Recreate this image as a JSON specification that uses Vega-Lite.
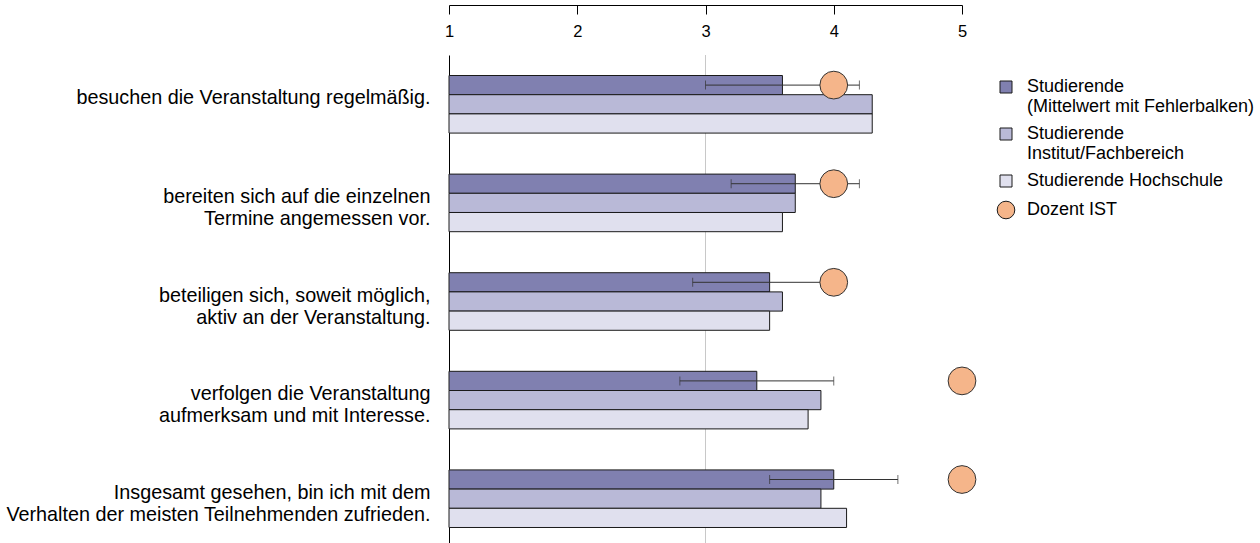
{
  "$schema": "https://vega.github.io/schema/vega-lite/v6.json",
  "autosize": "none",
  "width": 513,
  "height": 493,
  "padding": {"left": 449, "top": 55, "right": 298, "bottom": 0},
  "background": "white",
  "config": {
    "view": {"stroke": null},
    "font": "Liberation Sans",
    "axis": {"labelFont": "Liberation Sans", "labelColor": "#000"},
    "legend": {"labelFont": "Liberation Sans", "labelColor": "#000"}
  },
  "datasets": {
    "bars": [
      {"q": "besuchen die Veranstaltung regelmäßig.", "s": "Studierende|(Mittelwert mit Fehlerbalken)", "v": 3.6},
      {"q": "besuchen die Veranstaltung regelmäßig.", "s": "Studierende|Institut/Fachbereich", "v": 4.3},
      {"q": "besuchen die Veranstaltung regelmäßig.", "s": "Studierende Hochschule", "v": 4.3},
      {"q": "bereiten sich auf die einzelnen|Termine angemessen vor.", "s": "Studierende|(Mittelwert mit Fehlerbalken)", "v": 3.7},
      {"q": "bereiten sich auf die einzelnen|Termine angemessen vor.", "s": "Studierende|Institut/Fachbereich", "v": 3.7},
      {"q": "bereiten sich auf die einzelnen|Termine angemessen vor.", "s": "Studierende Hochschule", "v": 3.6},
      {"q": "beteiligen sich, soweit möglich,|aktiv an der Veranstaltung.", "s": "Studierende|(Mittelwert mit Fehlerbalken)", "v": 3.5},
      {"q": "beteiligen sich, soweit möglich,|aktiv an der Veranstaltung.", "s": "Studierende|Institut/Fachbereich", "v": 3.6},
      {"q": "beteiligen sich, soweit möglich,|aktiv an der Veranstaltung.", "s": "Studierende Hochschule", "v": 3.5},
      {"q": "verfolgen die Veranstaltung|aufmerksam und mit Interesse.", "s": "Studierende|(Mittelwert mit Fehlerbalken)", "v": 3.4},
      {"q": "verfolgen die Veranstaltung|aufmerksam und mit Interesse.", "s": "Studierende|Institut/Fachbereich", "v": 3.9},
      {"q": "verfolgen die Veranstaltung|aufmerksam und mit Interesse.", "s": "Studierende Hochschule", "v": 3.8},
      {"q": "Insgesamt gesehen, bin ich mit dem|Verhalten der meisten Teilnehmenden zufrieden.", "s": "Studierende|(Mittelwert mit Fehlerbalken)", "v": 4.0},
      {"q": "Insgesamt gesehen, bin ich mit dem|Verhalten der meisten Teilnehmenden zufrieden.", "s": "Studierende|Institut/Fachbereich", "v": 3.9},
      {"q": "Insgesamt gesehen, bin ich mit dem|Verhalten der meisten Teilnehmenden zufrieden.", "s": "Studierende Hochschule", "v": 4.1}
    ],
    "err": [
      {"q": "besuchen die Veranstaltung regelmäßig.", "lo": 3.0, "hi": 4.2},
      {"q": "bereiten sich auf die einzelnen|Termine angemessen vor.", "lo": 3.2, "hi": 4.2},
      {"q": "beteiligen sich, soweit möglich,|aktiv an der Veranstaltung.", "lo": 2.9, "hi": 4.1},
      {"q": "verfolgen die Veranstaltung|aufmerksam und mit Interesse.", "lo": 2.8, "hi": 4.0},
      {"q": "Insgesamt gesehen, bin ich mit dem|Verhalten der meisten Teilnehmenden zufrieden.", "lo": 3.5, "hi": 4.5}
    ],
    "doz": [
      {"q": "besuchen die Veranstaltung regelmäßig.", "s": "Dozent IST", "v": 4.0},
      {"q": "bereiten sich auf die einzelnen|Termine angemessen vor.", "s": "Dozent IST", "v": 4.0},
      {"q": "beteiligen sich, soweit möglich,|aktiv an der Veranstaltung.", "s": "Dozent IST", "v": 4.0},
      {"q": "verfolgen die Veranstaltung|aufmerksam und mit Interesse.", "s": "Dozent IST", "v": 5.0},
      {"q": "Insgesamt gesehen, bin ich mit dem|Verhalten der meisten Teilnehmenden zufrieden.", "s": "Dozent IST", "v": 5.0}
    ]
  },
  "encoding": {
    "y": {
      "field": "q", "type": "nominal", "sort": null,
      "scale": {"paddingInner": 0.416, "paddingOuter": 0.208},
      "axis": {
        "title": null, "ticks": false, "tickSize": 0, "labelPadding": 19,
        "labelFontSize": 19.8, "labelLineHeight": 22.4, "labelLimit": 600,
        "labelOffset": -6, "labelExpr": "split(datum.label, '|')",
        "domainColor": "#000", "domainWidth": 1
      }
    }
  },
  "layer": [
    {
      "data": {"name": "bars"},
      "mark": {"type": "rule", "color": "#c8c8c8", "strokeWidth": 1},
      "encoding": {"x": {"datum": 3, "type": "quantitative"}, "y": null}
    },
    {
      "data": {"name": "bars"},
      "mark": {"type": "bar", "stroke": "#1a1a1a", "strokeWidth": 1},
      "encoding": {
        "x": {
          "field": "v", "type": "quantitative",
          "scale": {"domain": [1, 5], "zero": false, "nice": false},
          "axis": {
            "orient": "bottom", "offset": -543, "title": null, "grid": false,
            "values": [1, 2, 3, 4, 5], "format": "d",
            "tickSize": 9, "tickColor": "#000", "domainColor": "#000",
            "labelFontSize": 16.5, "labelPadding": 9, "labelFlush": false
          }
        },
        "x2": {"datum": 1},
        "yOffset": {"field": "s", "type": "nominal", "sort": null,
          "scale": {"domain": ["Studierende|(Mittelwert mit Fehlerbalken)", "Studierende|Institut/Fachbereich", "Studierende Hochschule"], "paddingInner": 0, "paddingOuter": 0}},
        "color": {
          "field": "s", "type": "nominal",
          "scale": {
            "domain": ["Studierende|(Mittelwert mit Fehlerbalken)", "Studierende|Institut/Fachbereich", "Studierende Hochschule", "Dozent IST"],
            "range": ["#8080b0", "#b9b9d7", "#e0e0ee", "#f5b58a"]
          },
          "legend": {
            "title": null, "orient": "none", "legendX": 548, "legendY": 23,
            "labelExpr": "split(datum.label, '|')",
            "labelFontSize": 18, "labelLineHeight": 21, "labelLimit": 400,
            "labelOffset": 12, "rowPadding": 9, "symbolSize": 144,
            "symbolStrokeColor": "#1a1a1a", "symbolStrokeWidth": 1,
            "encode": {
              "symbols": {"update": {
                "shape": {"signal": "datum.value === 'Dozent IST' ? 'circle' : 'square'"},
                "size": {"signal": "datum.value === 'Dozent IST' ? 310 : 144"},
                "stroke": {"value": "#1a1a1a"},
                "strokeWidth": {"value": 1}
              }}
            }
          }
        }
      }
    },
    {
      "data": {"name": "err"},
      "mark": {"type": "rule", "color": "#333", "strokeWidth": 1},
      "encoding": {
        "x": {"field": "lo", "type": "quantitative"},
        "x2": {"field": "hi"},
        "yOffset": {"datum": "Studierende|(Mittelwert mit Fehlerbalken)"}
      }
    },
    {
      "data": {"name": "err"},
      "mark": {"type": "tick", "color": "#333", "thickness": 1, "size": 9, "orient": "vertical"},
      "encoding": {
        "x": {"field": "lo", "type": "quantitative"},
        "yOffset": {"datum": "Studierende|(Mittelwert mit Fehlerbalken)"}
      }
    },
    {
      "data": {"name": "err"},
      "mark": {"type": "tick", "color": "#333", "thickness": 1, "size": 9, "orient": "vertical"},
      "encoding": {
        "x": {"field": "hi", "type": "quantitative"},
        "yOffset": {"datum": "Studierende|(Mittelwert mit Fehlerbalken)"}
      }
    },
    {
      "data": {"name": "doz"},
      "mark": {"type": "point", "shape": "circle", "filled": true, "opacity": 1, "size": 770, "stroke": "#333", "strokeWidth": 1},
      "encoding": {
        "x": {"field": "v", "type": "quantitative"},
        "yOffset": {"datum": "Studierende|(Mittelwert mit Fehlerbalken)"},
        "color": {"field": "s", "type": "nominal"}
      }
    }
  ]
}
